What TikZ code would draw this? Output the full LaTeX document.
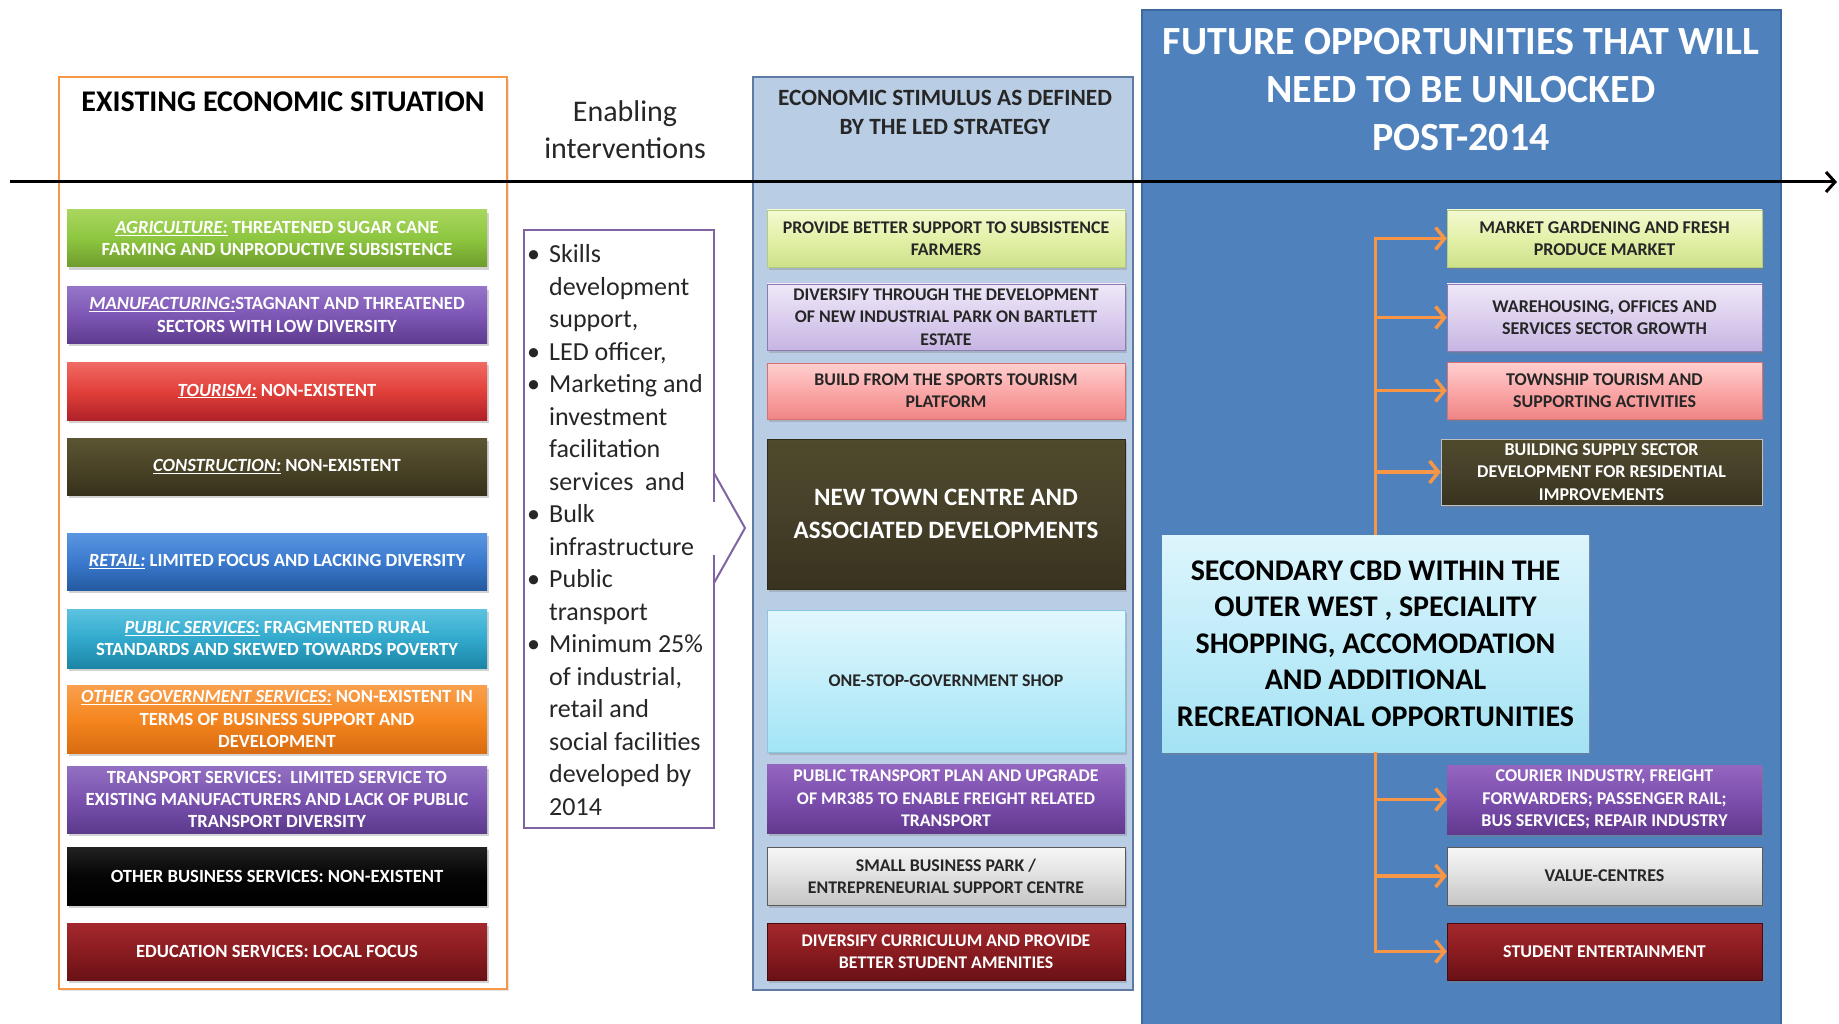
\documentclass[tikz,border=0pt]{standalone}
\usepackage{fontspec}
\setmainfont{Carlito}
\usetikzlibrary{arrows.meta,shadows}
\definecolor{orangeB}{HTML}{F79646}
\definecolor{pbfill}{HTML}{B9CDE5}
\definecolor{pbline}{HTML}{5F7BA3}
\definecolor{prfill}{HTML}{4F81BD}
\definecolor{prline}{HTML}{3C6A9E}
\definecolor{ivline}{HTML}{8064A2}
\definecolor{darktxt}{HTML}{262626}
\newcommand{\secname}[1]{\underline{\textit{#1}}}
\tikzset{
  grad/.style n args={3}{/utils/exec={\definecolor{gA}{HTML}{#1}\definecolor{gB}{HTML}{#2}\definecolor{gC}{HTML}{#3}},top color=gA,bottom color=gC,middle color=gB},
  dr/.style={/utils/exec={\definecolor{dC}{HTML}{#1}},draw=dC},
  shad/.style={drop shadow={shadow xshift=2pt,shadow yshift=-3pt,opacity=.35}},
  box/.style={rectangle,align=center,inner sep=2pt,shad},
  lbox/.style={box,minimum width=420pt,text=white,font=\bfseries\fontsize{18.6pt}{22.3pt}\selectfont},
  mbox/.style={box,minimum width=358pt,text=darktxt,font=\bfseries\fontsize{17.8pt}{22.3pt}\selectfont},
  rbox/.style={box,minimum width=315pt,text=darktxt,font=\bfseries\fontsize{18pt}{22.3pt}\selectfont},
  oarr/.style={draw=orangeB,line width=3.5pt,-{Straight Barb[length=9pt,width=22pt,line width=3.5pt]}},
}
\begin{document}
\begin{tikzpicture}[x=1pt,y=-1pt]
\useasboundingbox (0,0) rectangle (1839,1024);
\fill[white] (0,0) rectangle (1839,1024);

% panels
\node[draw=orangeB,line width=2pt,fill=white,minimum width=448pt,minimum height=912pt,inner sep=0,drop shadow={shadow xshift=2pt,shadow yshift=-2pt,opacity=.2}] (p1) at (283,533) {};
\node[draw=pbline,line width=2pt,fill=pbfill,minimum width=380pt,minimum height=913pt,inner sep=0] (p2) at (943,533.5) {};
\node[draw=prline,line width=1.5pt,fill=prfill,minimum width=639pt,minimum height=1020pt,inner sep=0] (p3) at (1461.5,520) {};

% titles
\node[font=\bfseries\fontsize{30pt}{34pt}\selectfont,text=black] (t1) at (283,102) {EXISTING ECONOMIC SITUATION};
\node[align=center,font=\fontsize{30pt}{37pt}\selectfont,text=black!85] (t2) at (625,129.5) {Enabling\\interventions};
\node[align=center,font=\bfseries\fontsize{23.3pt}{29pt}\selectfont,text=darktxt] (t3) at (945,112) {ECONOMIC STIMULUS AS DEFINED\\BY THE LED STRATEGY};
\node[align=center,font=\bfseries\fontsize{40pt}{48pt}\selectfont,text=white] (t4) at (1461,90) {FUTURE OPPORTUNITIES THAT WILL\\NEED TO BE UNLOCKED\\POST-2014};

% left column
\node[lbox,grad={A9D65E}{8DC63F}{6E9B2C},minimum height=57pt] (l1) at (277,238.5) {\secname{AGRICULTURE:} THREATENED SUGAR CANE\\FARMING AND UNPRODUCTIVE SUBSISTENCE};
\node[lbox,grad={9575C8}{7E57B5}{5E3B8F},minimum height=56pt] (l2) at (277,315) {\secname{MANUFACTURING:}STAGNANT AND THREATENED\\SECTORS WITH LOW DIVERSITY};
\node[lbox,grad={F06A64}{E2403A}{B02229},minimum height=58pt] (l3) at (277,391) {\secname{TOURISM:} NON-EXISTENT};
\node[lbox,grad={5C5533}{4A4427}{36311B},minimum height=57pt] (l4) at (277,466.5) {\secname{CONSTRUCTION:} NON-EXISTENT};
\node[lbox,grad={5A96E0}{3B7ACF}{245AA0},minimum height=57pt] (l5) at (277,561.5) {\secname{RETAIL:} LIMITED FOCUS AND LACKING DIVERSITY};
\node[lbox,grad={5CC3E0}{32AACD}{1C85A5},minimum height=59pt] (l6) at (277,638.5) {\secname{PUBLIC SERVICES:} FRAGMENTED RURAL\\STANDARDS AND SKEWED TOWARDS POVERTY};
\node[lbox,grad={F9A04E}{F5861F}{D96C10},minimum height=68pt] (l7) at (277,719) {\secname{OTHER GOVERNMENT SERVICES:} NON-EXISTENT IN\\TERMS OF BUSINESS SUPPORT AND\\DEVELOPMENT};
\node[lbox,grad={9270C2}{7A52AF}{5C3A8C},minimum height=67pt] (l8) at (277,799.5) {TRANSPORT SERVICES:\ \ LIMITED SERVICE TO\\EXISTING MANUFACTURERS AND LACK OF PUBLIC\\TRANSPORT DIVERSITY};
\node[lbox,grad={222222}{050505}{000000},minimum height=58pt] (l9) at (277,876) {OTHER BUSINESS SERVICES: NON-EXISTENT};
\node[lbox,grad={A3282D}{8A1C20}{6A1115},minimum height=57pt] (l10) at (277,951.5) {EDUCATION SERVICES: LOCAL FOCUS};

% interventions
\node[draw=ivline,line width=2pt,fill=white,minimum width=190pt,minimum height=598pt,inner sep=0] (iv) at (619,529) {};
\fill[white] (711,502) rectangle (717,555);
\draw[ivline,line width=2pt,line join=miter] (714,473) -- (745,528) -- (714,583);
\node[anchor=north west,align=left,inner sep=0,font=\fontsize{26pt}{32.5pt}\selectfont,text=black!85] (ivt) at (527,244.5) {%
\makebox[22pt][l]{•}Skills\\
\hspace*{22pt}development\\
\hspace*{22pt}support,\\
\makebox[22pt][l]{•}LED officer,\\
\makebox[22pt][l]{•}Marketing and\\
\hspace*{22pt}investment\\
\hspace*{22pt}facilitation\\
\hspace*{22pt}services\ \ and\\
\makebox[22pt][l]{•}Bulk\\
\hspace*{22pt}infrastructure\\
\makebox[22pt][l]{•}Public\\
\hspace*{22pt}transport\\
\makebox[22pt][l]{•}Minimum 25\%\\
\hspace*{22pt}of industrial,\\
\hspace*{22pt}retail and\\
\hspace*{22pt}social facilities\\
\hspace*{22pt}developed by\\
\hspace*{22pt}2014};

% middle column
\node[mbox,grad={F4FAD2}{E3F0A8}{CDE28A},dr=B5CC7E,minimum height=57pt] (m1) at (946,238.5) {PROVIDE BETTER SUPPORT TO SUBSISTENCE\\FARMERS};
\node[mbox,grad={EFE8F8}{DCCFEE}{C6B5E2},dr=8E7BB5,minimum height=66pt] (m2) at (946,317) {DIVERSIFY THROUGH THE DEVELOPMENT\\OF NEW INDUSTRIAL PARK ON BARTLETT\\ESTATE};
\node[mbox,grad={FFD0D0}{FBA8A8}{F08585},dr=D77070,minimum height=56pt] (m3) at (946,391) {BUILD FROM THE SPORTS TOURISM\\PLATFORM};
\node[mbox,grad={504A2C}{46402A}{38331E},dr=2E2A18,minimum height=150pt,text=white,font=\bfseries\fontsize{25pt}{33pt}\selectfont] (m4) at (946,514) {NEW TOWN CENTRE AND\\ASSOCIATED DEVELOPMENTS};
\node[mbox,grad={E2F7FD}{C2EEFA}{A2E4F6},dr=86C9DF,minimum height=142pt] (m5) at (946,681) {ONE-STOP-GOVERNMENT SHOP};
\node[mbox,grad={9466C0}{7C4FAE}{63398F},minimum height=69pt,text=white] (m6) at (946,798.5) {PUBLIC TRANSPORT PLAN AND UPGRADE\\OF MR385 TO ENABLE FREIGHT RELATED\\TRANSPORT};
\node[mbox,grad={F6F6F6}{E0E0E0}{C4C4C4},dr=5A5A5A,minimum height=58pt] (m7) at (946,876) {SMALL BUSINESS PARK /\\ENTREPRENEURIAL SUPPORT CENTRE};
\node[mbox,grad={A3282D}{8A1C20}{6A1115},dr=4A0A0D,minimum height=57pt,text=white] (m8) at (946,951.5) {DIVERSIFY CURRICULUM AND PROVIDE\\BETTER STUDENT AMENITIES};

% right column
\node[rbox,grad={F4FAD2}{E3F0A8}{CDE28A},dr=B5CC7E,minimum height=57pt] (r1) at (1604.5,238.5) {MARKET GARDENING AND FRESH\\PRODUCE MARKET};
\node[rbox,grad={EFE8F8}{DCCFEE}{C6B5E2},dr=8E7BB5,minimum height=67pt] (r2) at (1604.5,317.5) {WAREHOUSING, OFFICES AND\\SERVICES SECTOR GROWTH};
\node[rbox,grad={FFD0D0}{FBA8A8}{F08585},dr=D77070,minimum height=57pt] (r3) at (1604.5,390.5) {TOWNSHIP TOURISM AND\\SUPPORTING ACTIVITIES};
\node[rbox,grad={504A2C}{46402A}{38331E},dr=C0C0C0,minimum width=321pt,minimum height=66pt,text=white] (r4) at (1601.5,472) {BUILDING SUPPLY SECTOR\\DEVELOPMENT FOR RESIDENTIAL\\IMPROVEMENTS};
\node[box,grad={DDF5FC}{C0ECF9}{A3E2F4},minimum width=427pt,minimum height=217pt,text=black,font=\bfseries\fontsize{30pt}{36.4pt}\selectfont] (cbd) at (1375.5,643.5) {SECONDARY CBD WITHIN THE\\OUTER WEST , SPECIALITY\\SHOPPING, ACCOMODATION\\AND ADDITIONAL\\RECREATIONAL OPPORTUNITIES};
\node[rbox,grad={9466C0}{7C4FAE}{63398F},minimum height=69pt,text=white] (r5) at (1604.5,799.5) {COURIER INDUSTRY, FREIGHT\\FORWARDERS; PASSENGER RAIL;\\BUS SERVICES; REPAIR INDUSTRY};
\node[rbox,grad={F6F6F6}{E0E0E0}{C4C4C4},dr=5A5A5A,minimum height=58pt] (r6) at (1604.5,876) {VALUE-CENTRES};
\node[rbox,grad={A3282D}{8A1C20}{6A1115},dr=4A0A0D,minimum height=57pt,text=white] (r7) at (1604.5,951.5) {STUDENT ENTERTAINMENT};

% orange connectors
\draw[oarr] (cbd.north) |- (r1.west);
\draw[oarr] (cbd.north) |- (r2.west);
\draw[oarr] (cbd.north) |- (r3.west);
\draw[oarr] (cbd.north) |- (r4.west);
\draw[oarr] (cbd.south) |- (r5.west);
\draw[oarr] (cbd.south) |- (r6.west);
\draw[oarr] (cbd.south) |- (r7.west);

% timeline arrow
\coordinate (tl) at (10,182);
\coordinate (tr) at (1837,182);
\draw[line width=3pt,-{Straight Barb[length=9pt,width=20pt,line width=3pt]}] (tl) -- (tr);
\end{tikzpicture}
\end{document}
